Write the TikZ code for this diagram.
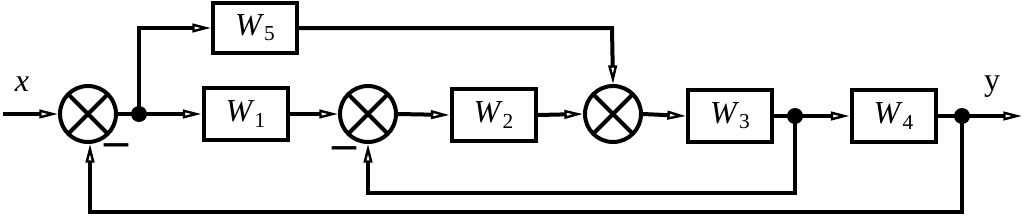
\documentclass[tikz,border=0pt]{standalone}
\usepackage{fontspec}
\setmainfont{Liberation Serif}
\usetikzlibrary{arrows.meta}
\begin{document}
\begin{tikzpicture}[x=0.75pt,y=-0.75pt,
  line width=3pt,
  ar/.style={-{Triangle[open,length=14pt,width=6.5pt,line width=1.8pt]}},
  blk/.style={draw,line width=3pt,minimum width=63pt,minimum height=38.5pt,inner sep=0pt,
    font=\fontsize{24}{28}\selectfont},
  summ/.style={draw,circle,line width=3pt,minimum size=42pt,inner sep=0pt,
    path picture={\draw[line width=3pt] (path picture bounding box.north west)--(path picture bounding box.south east)
      (path picture bounding box.north east)--(path picture bounding box.south west);}},
  dot/.style={circle,fill,inner sep=0pt,minimum size=12pt},
  lbl/.style={font=\fontsize{24}{28}\selectfont,inner sep=0pt},
  minus/.style={font=\fontsize{36}{38}\selectfont\bfseries,inner sep=0pt}]
\useasboundingbox (0,0) rectangle (1024,215);
\newcommand{\Wl}[1]{\textit{W}\raisebox{-0.35ex}{\fontsize{16}{18}\selectfont #1}}
% summing junctions
\node[summ] (s1) at (88,114) {};
\node[summ] (s2) at (368,114) {};
\node[summ] (s3) at (613,114) {};
% blocks
\node[blk] (w1) at (245.5,114) {\Wl{1}};
\node[blk] (w2) at (493.5,115) {\Wl{2}};
\node[blk] (w3) at (730,116) {\Wl{3}};
\node[blk] (w4) at (893.5,116) {\Wl{4}};
\node[blk,minimum height=37.5pt] (w5) at (255,28) {\Wl{5}};
% branch dots
\node[dot] (d1) at (139,114) {};
\node[dot] (d2) at (795,116) {};
\node[dot] (d3) at (962,116) {};
% ends and corners
\coordinate (in) at (3,114);
\coordinate (out) at (1022,116);
\coordinate (c5a) at (139,28);
\coordinate (c5b) at (612,28);
\coordinate (f1a) at (795,193);
\coordinate (f1b) at (368,193);
\coordinate (f2a) at (962,212);
\coordinate (f2b) at (90,212);
% labels
\node[lbl] (lx) at (22,84) {\textit{x}};
\node[lbl] (ly) at (992,87) {y};
\node[minus] (m1) at (116,150) {–};
\node[minus] (m2) at (344,153) {–};
% main path
\draw[ar] (in) -- (s1.west);
\draw (s1.east) -- (d1.center);
\draw[ar] (d1.center) -- (w1.west);
\draw[ar] (w1.east) -- (s2.west);
\draw[ar] (s2.east) -- (w2.west);
\draw[ar] (w2.east) -- (s3.west);
\draw[ar] (s3.east) -- (w3.west);
\draw (w3.east) -- (d2.center);
\draw[ar] (d2.center) -- (w4.west);
\draw (w4.east) -- (d3.center);
\draw[ar] (d3.center) -- (out);
% W5 branch
\draw[ar] (d1.center) -- (c5a) -- (w5.west);
\draw[ar] (w5.east) -- (c5b) -- (s3.north);
% feedbacks
\draw[ar] (d2.center) -- (f1a) -- (f1b) -- (s2.south);
\draw[ar] (d3.center) -- (f2a) -- (f2b) -- (f2b |- s1.south);
\end{tikzpicture}
\end{document}
